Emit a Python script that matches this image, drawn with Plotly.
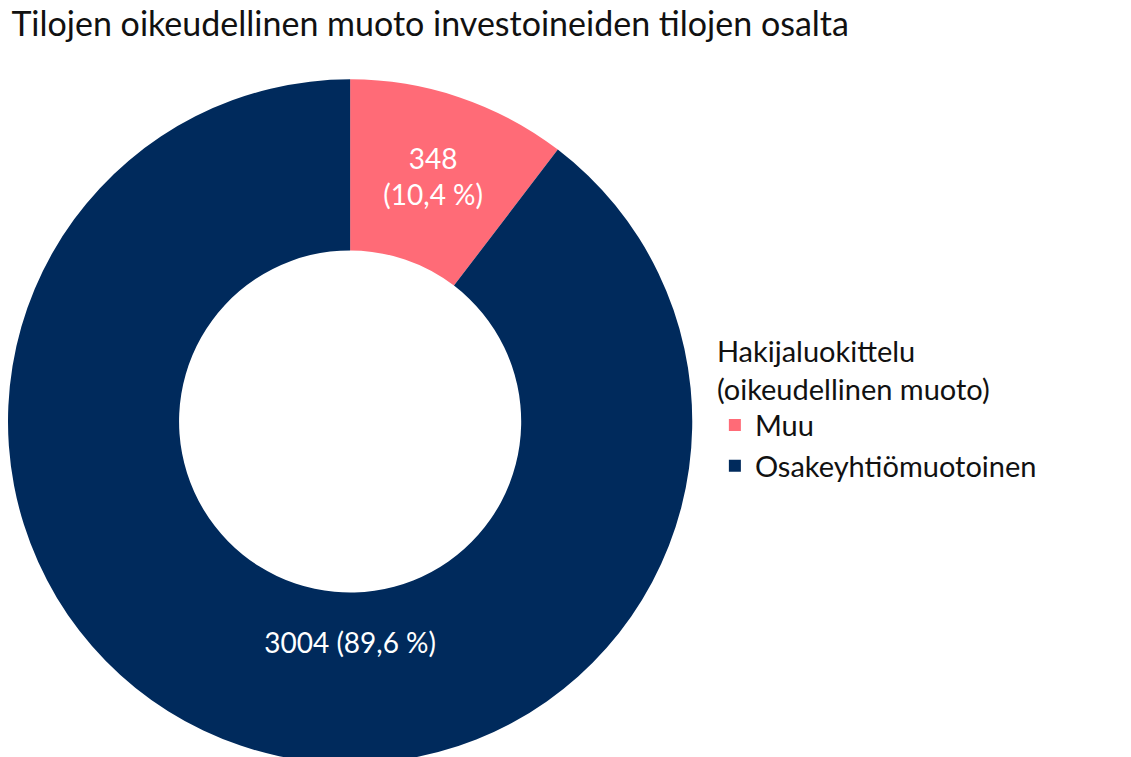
import plotly.graph_objects as go

# --- Data ---
labels = ['Muu', 'Osakeyhtiömuotoinen']
values = [348, 3004]
texts = ['348<br>(10,4 %)', '3004 (89,6 %)']
colors = ['#ff6b77', '#002a5c']

fig = go.Figure(go.Pie(
    labels=labels,
    values=values,
    text=texts,
    textinfo='text',
    textposition='inside',
    insidetextorientation='horizontal',
    hole=0.5,
    sort=False,
    direction='counterclockwise',
    rotation=0,
    marker=dict(colors=colors),
    textfont=dict(color='white', size=28),
    domain=dict(x=[0, 0.605], y=[0, 1]),
))

fig.update_layout(
    width=1131, height=757,
    font=dict(family='Lato', color='#111111'),
    title=dict(text='Tilojen oikeudellinen muoto investoineiden tilojen osalta',
               x=0.003, xanchor='left', y=0.995, yanchor='top',
               font=dict(size=34)),
    margin=dict(l=0, r=0, t=70, b=0),
    legend=dict(title=dict(text='Hakijaluokittelu<br>(oikeudellinen muoto)', font=dict(size=29)),
                font=dict(size=29), x=0.625, xanchor='left', y=0.52, yanchor='middle',
                itemsizing='constant'),
    paper_bgcolor='white',
)

fig.write_html('out.html')
